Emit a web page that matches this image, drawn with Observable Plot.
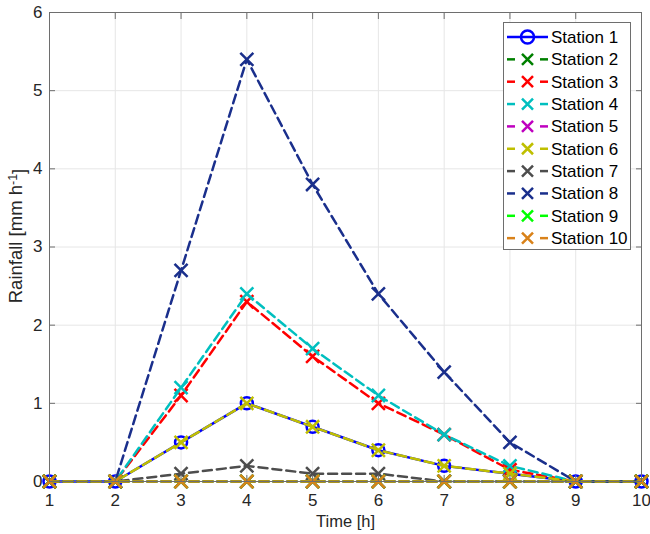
<!DOCTYPE html>
<html><head><meta charset="utf-8">
<script src="https://cdn.jsdelivr.net/npm/d3@7"></script>
<script src="https://cdn.jsdelivr.net/npm/@observablehq/plot@0.6"></script>
<style>body{margin:0;background:#fff;font-family:"Liberation Sans",Arial,sans-serif}</style>
</head><body><div id="chart"></div>
<script>
const time = [1,2,3,4,5,6,7,8,9,10];
const station1 = [0,0,0.5,1.0,0.7,0.4,0.2,0.1,0,0];
const station2 = [0,0,0,0,0,0,0,0,0,0];
const station3 = [0,0,1.1,2.3,1.6,1.0,0.6,0.15,0,0];
const station4 = [0,0,1.2,2.4,1.7,1.1,0.6,0.2,0,0];
const station5 = [0,0,0,0,0,0,0,0,0,0];
const station6 = [0,0,0.5,1.0,0.7,0.4,0.2,0.1,0,0];
const station7 = [0,0,0.1,0.2,0.1,0.1,0,0,0,0];
const station8 = [0,0,2.7,5.4,3.8,2.4,1.4,0.5,0,0];
const station9 = [0,0,0,0,0,0,0,0,0,0];
const station10 = [0,0,0,0,0,0,0,0,0,0];
const stationNames = ["Station 1","Station 2","Station 3","Station 4","Station 5","Station 6","Station 7","Station 8","Station 9","Station 10"];
const stationValues = [station1,station2,station3,station4,station5,station6,station7,station8,station9,station10];
const colors = ["#0000ff","#008000","#ff0000","#00bfbf","#bf00bf","#bfbf00","#4d4d4d","#1a2f8c","#00ff00","#d9821a"];
const xTicks = [1,2,3,4,5,6,7,8,9,10];
const yTicks = [0,1,2,3,4,5,6];

const rows = [];
stationNames.forEach((name, i) => stationValues[i].forEach((v, j) => rows.push({name, idx: i, t: time[j], v})));

const FONT = "Liberation Sans, Arial, sans-serif";
const marks = [
  Plot.gridX(xTicks, {stroke: "#e6e6e6", strokeOpacity: 1}),
  Plot.gridY(yTicks, {stroke: "#e6e6e6", strokeOpacity: 1}),
];
stationNames.forEach((name, i) => {
  const d = rows.filter(r => r.idx === i);
  marks.push(Plot.line(d, {x: "t", y: "v", stroke: colors[i], strokeWidth: 2.5,
    strokeDasharray: i === 0 ? null : "9,5"}));
  marks.push(Plot.dot(d, {x: "t", y: "v", stroke: colors[i], strokeWidth: 2.5, fill: "none",
    symbol: i === 0 ? "circle" : "times", r: 6}));
});
marks.push(Plot.frame({stroke: "#6e6e6e", strokeWidth: 1}));
marks.push(Plot.axisX(xTicks, {anchor: "bottom", tickSize: -6, tickPadding: 18, stroke: "#6e6e6e", fill: "#262626", tickFormat: d => String(d), label: "Time [h]", labelAnchor: "center", labelOffset: 45, labelArrow: "none"}));
marks.push(Plot.axisX(xTicks, {anchor: "top", tickSize: -6, tickFormat: () => "", stroke: "#6e6e6e", label: null}));
marks.push(Plot.axisY(yTicks, {anchor: "left", tickSize: -6, tickPadding: 13, stroke: "#6e6e6e", fill: "#262626", tickFormat: d => String(d), label: "Rainfall [mm h-1]", labelAnchor: "center", labelOffset: 36, labelArrow: "none"}));
marks.push(Plot.axisY(yTicks, {anchor: "right", tickSize: -6, tickFormat: () => "", stroke: "#6e6e6e", label: null}));

const chart = Plot.plot({
  width: 650, height: 534,
  marginLeft: 49, marginRight: 9, marginTop: 12, marginBottom: 53,
  style: {fontFamily: FONT, fontSize: "16px", color: "#262626"},
  x: {domain: [1, 10]},
  y: {domain: [0, 6]},
  marks
});
document.getElementById("chart").appendChild(chart);

const svg = d3.select(chart);
svg.selectAll("text").style("font-size", "17px");
// superscript in y label
svg.selectAll("text").each(function() {
  const t = d3.select(this);
  if (t.text() === "Time [h]") t.style("font-size", "16.5px");
  if (t.text() === "Rainfall [mm h-1]") {
    t.style("font-size", "18.5px");
    const ts = t.select("tspan").empty() ? t : t.select("tspan");
    ts.text("Rainfall [mm h");
    ts.append("tspan").attr("dy", "-0.45em").style("font-size", "12.5px").text("-1");
    ts.append("tspan").attr("dy", "0.45em").text("]");
    // align to reference position
    const b = this.getBoundingClientRect();
    const c = chart.getBoundingClientRect();
    const dx = 29 - (b.right - c.left);
    const dy = 236 - ((b.top + b.bottom) / 2 - c.top);
    const tr = t.attr("transform") || "";
    t.attr("transform", `translate(${dx},${dy}) ` + tr);
  }
});

// legend
const lg = svg.append("g").attr("font-family", FONT).attr("text-anchor", "start");
lg.append("rect").attr("x", 503.5).attr("y", 22.5).attr("width", 127).attr("height", 227)
  .attr("fill", "#fff").attr("stroke", "#6e6e6e").attr("stroke-width", 1);
stationNames.forEach((name, i) => {
  const y = 37 + i * 22.35;
  const g = lg.append("g");
  if (i === 0) {
    g.append("line").attr("x1", 507).attr("x2", 548).attr("y1", y).attr("y2", y).attr("stroke", colors[i]).attr("stroke-width", 2.5);
    g.append("circle").attr("cx", 527.5).attr("cy", y).attr("r", 6.5).attr("fill", "none").attr("stroke", colors[i]).attr("stroke-width", 2.5);
  } else {
    g.append("line").attr("x1", 507).attr("x2", 515).attr("y1", y).attr("y2", y).attr("stroke", colors[i]).attr("stroke-width", 2.5);
    g.append("line").attr("x1", 540).attr("x2", 548).attr("y1", y).attr("y2", y).attr("stroke", colors[i]).attr("stroke-width", 2.5);
    const s = 5.5;
    g.append("path").attr("d", `M${527.5-s},${y-s}L${527.5+s},${y+s}M${527.5-s},${y+s}L${527.5+s},${y-s}`)
      .attr("stroke", colors[i]).attr("stroke-width", 2.5).attr("fill", "none");
  }
  g.append("text").attr("x", 551).attr("y", y).attr("dy", "0.35em").attr("fill", "#000").style("font-size", "17px").text(name);
});
</script>
</body></html>
